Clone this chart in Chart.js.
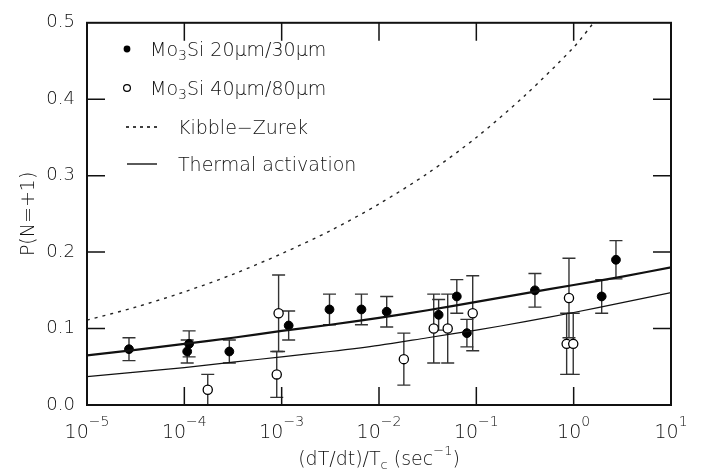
<!DOCTYPE html>
<html>
<head>
<meta charset="utf-8">
<script src="https://cdn.jsdelivr.net/npm/chart.js@4.4.1/dist/chart.umd.min.js"></script>
<style>
  html, body { margin: 0; padding: 0; background: #fff; }
  #wrap { width: 701px; height: 474px; }
</style>
</head>
<body>
<div id="wrap"><canvas id="c" width="701" height="474"></canvas></div>
<script>
// Mo3Si 20um/30um (filled circles)
const filledX = [2.7e-5, 1.07e-4, 1.12e-4, 2.9e-4, 1.18e-3, 3.1e-3, 6.6e-3, 0.012, 0.041, 0.063, 0.080, 0.40, 1.94, 2.72];
const filledY = [0.073, 0.070, 0.080, 0.070, 0.104, 0.125, 0.125, 0.122, 0.118, 0.142, 0.094, 0.150, 0.142, 0.190];
const filledErr = [0.015, 0.015, 0.017, 0.015, 0.019, 0.020, 0.020, 0.020, 0.020, 0.022, 0.018, 0.022, 0.022, 0.025];

// Mo3Si 40um/80um (open circles)
const openX = [1.74e-4, 8.9e-4, 9.3e-4, 0.018, 0.0365, 0.0508, 0.0918, 0.847, 0.895, 0.99];
const openY = [0.020, 0.040, 0.120, 0.060, 0.100, 0.100, 0.120, 0.080, 0.140, 0.080];
const openErr = [0.020, 0.030, 0.050, 0.034, 0.045, 0.045, 0.049, 0.040, 0.052, 0.040];

// curves, read at half decades
const curveX = [1e-5, 3.16e-5, 1e-4, 3.16e-4, 1e-3, 3.16e-3, 1e-2, 3.16e-2, 0.1, 0.316, 1, 3.16, 10];
const thermalUpper = [0.065, 0.072, 0.080, 0.088, 0.097, 0.105, 0.114, 0.124, 0.135, 0.146, 0.157, 0.168, 0.180];
const thermalLower = [0.037, 0.043, 0.049, 0.056, 0.063, 0.070, 0.078, 0.088, 0.098, 0.109, 0.121, 0.134, 0.147];
const kzX = [1e-5, 3.16e-5, 1e-4, 3.16e-4, 1e-3, 3.16e-3, 1e-2, 3.16e-2, 0.1, 0.316, 1, 1.6];
const kibbleZurek = [0.111, 0.128, 0.148, 0.171, 0.198, 0.228, 0.263, 0.303, 0.350, 0.405, 0.468, 0.500];

// axes
const xDecades = [1e-5, 1e-4, 1e-3, 1e-2, 1e-1, 1, 10];
const xExps = ['\u22125', '\u22124', '\u22123', '\u22122', '\u22121', '0', '1'];
const yTicks = [0, 0.1, 0.2, 0.3, 0.4, 0.5];

const FONT = '"DejaVu Sans", "Liberation Sans", sans-serif';
const INK = '#111';

const pts = (xs, ys) => xs.map((x, i) => ({ x: x, y: ys[i] }));

// error bars, drawn under the markers
const errorBars = {
  id: 'errorBars',
  beforeDatasetsDraw(chart) {
    const ctx = chart.ctx, xs = chart.scales.x, ys = chart.scales.y, a = chart.chartArea;
    ctx.save();
    ctx.beginPath();
    ctx.rect(a.left, a.top, a.right - a.left, a.bottom - a.top);
    ctx.clip();
    ctx.strokeStyle = '#333';
    ctx.lineWidth = 1.4;
    const draw = (X, Y, E) => {
      X.forEach((x, i) => {
        const px = xs.getPixelForValue(x);
        const top = ys.getPixelForValue(Y[i] + E[i]);
        const bot = ys.getPixelForValue(Y[i] - E[i]);
        ctx.beginPath();
        ctx.moveTo(px, top); ctx.lineTo(px, bot);
        ctx.moveTo(px - 6.5, top); ctx.lineTo(px + 6.5, top);
        ctx.moveTo(px - 6.5, bot); ctx.lineTo(px + 6.5, bot);
        ctx.stroke();
      });
    };
    draw(filledX, filledY, filledErr);
    draw(openX, openY, openErr);
    ctx.restore();
  }
};

function richText(ctx, parts, x, y, align) {
  // parts: [text, size, dy]
  let w = 0;
  parts.forEach(p => { ctx.font = '200 ' + p[1] + 'px ' + FONT; w += ctx.measureText(p[0]).width; });
  let cx = align === 'center' ? x - w / 2 : x;
  ctx.textAlign = 'left';
  ctx.textBaseline = 'alphabetic';
  parts.forEach(p => {
    ctx.font = '200 ' + p[1] + 'px ' + FONT;
    ctx.fillText(p[0], cx, y + p[2]);
    cx += ctx.measureText(p[0]).width;
  });
}

const frame = {
  id: 'frame',
  afterDraw(chart) {
    const ctx = chart.ctx, xs = chart.scales.x, ys = chart.scales.y, a = chart.chartArea;
    ctx.save();
    ctx.strokeStyle = '#111';
    ctx.lineWidth = 2;
    ctx.strokeRect(a.left, a.top, a.right - a.left, a.bottom - a.top);
    ctx.lineWidth = 1.5;
    ctx.beginPath();
    xDecades.slice(1, -1).forEach(v => {
      const px = xs.getPixelForValue(v);
      ctx.moveTo(px, a.bottom); ctx.lineTo(px, a.bottom - 18);
      ctx.moveTo(px, a.top); ctx.lineTo(px, a.top + 18);
    });
    yTicks.slice(1, -1).forEach(v => {
      const py = ys.getPixelForValue(v);
      ctx.moveTo(a.left, py); ctx.lineTo(a.left + 18, py);
      ctx.moveTo(a.right, py); ctx.lineTo(a.right - 18, py);
    });
    ctx.stroke();

    ctx.fillStyle = INK;
    // x tick labels 10^n
    xDecades.forEach((v, i) => {
      richText(ctx, [['10', 19, 0], [xExps[i], 14, -12]], xs.getPixelForValue(v), 438, 'center');
    });
    // x title
    richText(ctx, [['(dT/dt)/T', 19, 0], ['c', 13, 4], [' (sec', 19, 0], ['\u22121', 13, -10], [')', 19, 0]],
      (a.left + a.right) / 2, 465, 'center');
    // y title
    ctx.save();
    ctx.translate(34, (a.top + a.bottom) / 2);
    ctx.rotate(-Math.PI / 2);
    richText(ctx, [['P(N=+1)', 19, 0]], 0, 0, 'center');
    ctx.restore();

    // legend
    ctx.fillStyle = '#000';
    ctx.beginPath(); ctx.arc(127, 49, 3.4, 0, Math.PI * 2); ctx.fill();
    ctx.strokeStyle = '#000'; ctx.lineWidth = 1.2;
    ctx.beginPath(); ctx.arc(127, 88, 3.4, 0, Math.PI * 2); ctx.stroke();
    ctx.lineWidth = 1.3;
    ctx.setLineDash([3, 4]);
    ctx.beginPath(); ctx.moveTo(126, 127); ctx.lineTo(158, 127); ctx.stroke();
    ctx.setLineDash([]);
    ctx.beginPath(); ctx.moveTo(127, 164); ctx.lineTo(157, 164); ctx.stroke();
    ctx.fillStyle = INK;
    richText(ctx, [['Mo', 19, 0], ['3', 14, 4], ['Si 20\u03bcm/30\u03bcm', 19, 0]], 150, 56, 'left');
    richText(ctx, [['Mo', 19, 0], ['3', 14, 4], ['Si 40\u03bcm/80\u03bcm', 19, 0]], 150, 95, 'left');
    richText(ctx, [['Kibble\u2212Zurek', 19, 0]], 178, 134, 'left');
    richText(ctx, [['Thermal activation', 19, 0]], 178, 171, 'left');
    ctx.restore();
  }
};

new Chart(document.getElementById('c'), {
  type: 'scatter',
  data: {
    datasets: [
      { label: 'Kibble-Zurek', data: pts(kzX, kibbleZurek), showLine: true, borderColor: '#222',
        borderWidth: 1.4, borderDash: [3, 5], pointRadius: 0, tension: 0.3 },
      { label: 'Thermal activation', data: pts(curveX, thermalUpper), showLine: true, borderColor: '#111',
        borderWidth: 2.2, pointRadius: 0, tension: 0.3 },
      { label: 'Thermal activation (40/80)', data: pts(curveX, thermalLower), showLine: true, borderColor: '#111',
        borderWidth: 1.2, pointRadius: 0, tension: 0.3 },
      { label: 'Mo3Si 20um/30um', data: pts(filledX, filledY), pointRadius: 4.4, pointBackgroundColor: '#000',
        pointBorderColor: '#000', pointBorderWidth: 1 },
      { label: 'Mo3Si 40um/80um', data: pts(openX, openY), pointRadius: 4.6, pointBackgroundColor: '#fff',
        pointBorderColor: '#000', pointBorderWidth: 1.3 }
    ]
  },
  options: {
    responsive: false,
    animation: false,
    layout: { padding: { top: 15, right: 30, left: 0, bottom: 0 } },
    plugins: { legend: { display: false }, tooltip: { enabled: false } },
    scales: {
      x: {
        type: 'logarithmic', min: 1e-5, max: 10,
        grid: { display: false, drawTicks: false }, border: { display: false },
        ticks: { display: false },
        afterBuildTicks: s => { s.ticks = xDecades.map(v => ({ value: v })); },
        afterFit: s => { s.height = 69; }
      },
      y: {
        min: 0, max: 0.5,
        grid: { display: false, drawTicks: false }, border: { display: false },
        ticks: { stepSize: 0.1, padding: 12, color: INK, font: { family: FONT, size: 18, weight: 200 },
          callback: v => v.toFixed(1) },
        afterFit: s => { s.width = 87; }
      }
    }
  },
  plugins: [errorBars, frame]
});
</script>
</body>
</html>
